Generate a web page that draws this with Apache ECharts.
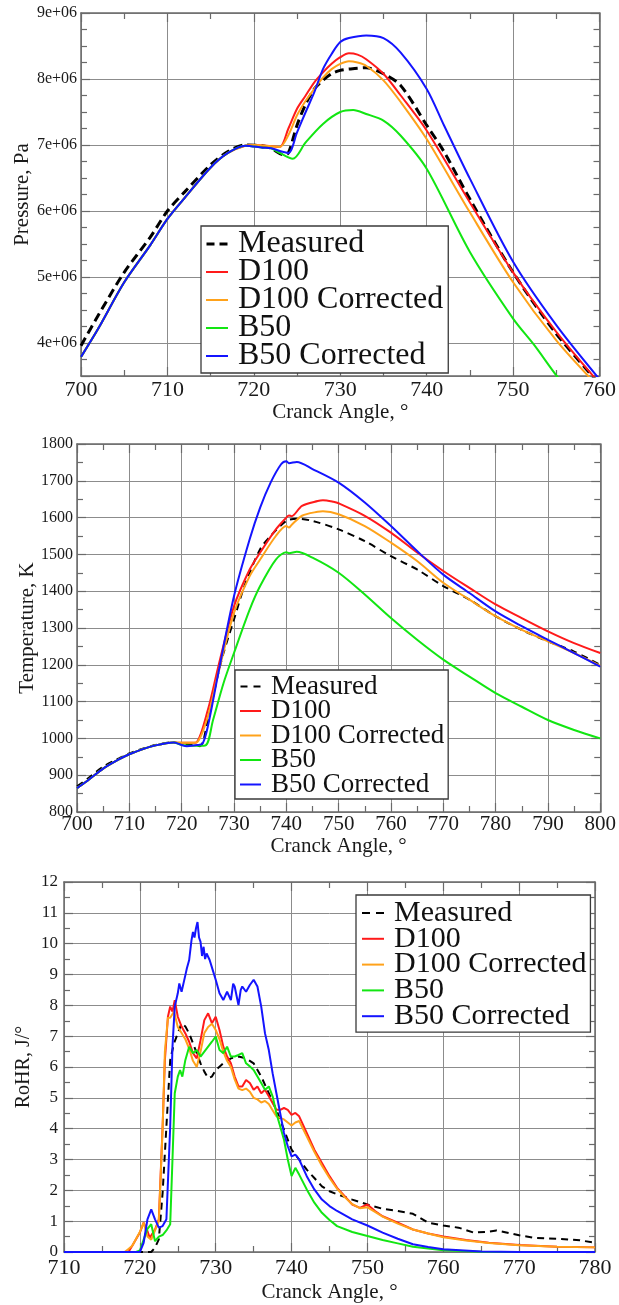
<!DOCTYPE html>
<html>
<head>
<meta charset="utf-8">
<script src="https://cdn.jsdelivr.net/npm/echarts@6/dist/echarts.min.js"></script>
<style>
html,body{margin:0;padding:0;background:#fff;}
#c{width:619px;height:1305px;}
</style>
</head>
<body>
<div id="c"></div>
<script>
// ---------- DATA ----------
const SERIES_NAMES = ['Measured', 'D100', 'D100 Corrected', 'B50', 'B50 Corrected'];

// Chart 1: Pressure, Pa vs crank angle
const P_X_TICKS = [700, 710, 720, 730, 740, 750, 760];
const P_MEAS_X = [700,702,705,708,710,712,715,717,719,721,722,723.5,724,725,726,727,728,729,730,731,733,735,737,740,742,745,750,755,760];
const P_MEAS_Y = [3.96e6,4.42e6,5.07e6,5.60e6,6.0e6,6.29e6,6.70e6,6.90e6,7.0e6,6.99e6,6.95e6,6.85e6,6.88e6,7.30e6,7.62e6,7.85e6,7.98e6,8.08e6,8.13e6,8.15e6,8.17e6,8.08e6,7.90e6,7.30e6,6.90e6,6.18e6,5.07e6,4.14e6,3.38e6];
const P_D100_X = [700,702,705,708,710,712,715,717,719,720,722,723,724,725,726,727,728,729,730,731,732,733,735,737,740,745,750,755,760];
const P_D100_Y = [3.79e6,4.22e6,4.92e6,5.48e6,5.88e6,6.20e6,6.66e6,6.88e6,6.99e6,7.0e6,6.98e6,6.97e6,7.25e6,7.55e6,7.75e6,7.95e6,8.10e6,8.23e6,8.33e6,8.39e6,8.37e6,8.30e6,8.08e6,7.75e6,7.22e6,6.13e6,5.07e6,4.17e6,3.39e6];
const P_D100C_X = [700,702,705,708,710,712,715,717,719,720,722,723,724,725,726,727,728,729,730,731,732,733,735,737,740,745,750,755,760];
const P_D100C_Y = [3.79e6,4.22e6,4.92e6,5.48e6,5.88e6,6.20e6,6.66e6,6.88e6,6.99e6,7.0e6,6.98e6,6.97e6,7.15e6,7.45e6,7.67e6,7.85e6,8.02e6,8.15e6,8.23e6,8.27e6,8.25e6,8.20e6,7.98e6,7.65e6,7.09e6,5.98e6,4.92e6,4.04e6,3.32e6];
const P_B50_X = [700,702,705,708,710,712,715,717,719,721,722,723,724.5,726,728,730,731.5,733,735,737,740,745,750,752.5,755,757];
const P_B50_Y = [3.79e6,4.22e6,4.92e6,5.48e6,5.88e6,6.20e6,6.66e6,6.88e6,6.99e6,6.96e6,6.95e6,6.88e6,6.79e6,7.04e6,7.32e6,7.50e6,7.53e6,7.47e6,7.37e6,7.14e6,6.64e6,5.38e6,4.37e6,3.96e6,3.51e6,3.2e6];
const P_B50C_X = [700,702,705,708,710,712,715,717,719,721,722,723,724,725,726,727,728,729,730,731,733,735,737,740,742,745,750,755,760];
const P_B50C_Y = [3.79e6,4.22e6,4.92e6,5.48e6,5.88e6,6.20e6,6.66e6,6.88e6,6.99e6,6.96e6,6.95e6,6.91e6,6.88e6,7.19e6,7.50e6,7.80e6,8.15e6,8.38e6,8.56e6,8.62e6,8.66e6,8.62e6,8.40e6,7.85e6,7.30e6,6.49e6,5.23e6,4.27e6,3.45e6];

// Chart 2: Temperature, K vs crank angle
const T_MEAS_X = [700,702,705,708,710,713,715,718,720,722,723.5,725,727,728,730,732,735,737,740,742,745,750,755,760,765,770,775,780,785,790,795,800];
const T_MEAS_Y = [870,890,923,946,959,974,982,989,986,982,979,1050,1177,1232,1323,1414,1514,1550,1591,1597,1591,1568,1536,1495,1459,1414,1377,1332,1295,1264,1236,1200];
const T_D100_X = [700,702,705,708,710,713,715,717,718.5,720,722,722.8,725,727,730,733,735,738,740,740.5,741,743,746,747,749,750,755,760,765,770,775,780,785,790,795,800];
const T_D100_Y = [865,885,918,943,957,973,981,987,989,988,988,989,1077,1195,1359,1459,1505,1568,1600,1606,1604,1632,1645,1647,1643,1639,1605,1559,1505,1455,1409,1364,1327,1291,1259,1232];
const T_D100C_X = [700,702,705,708,710,713,715,717,718.5,720,722,723,725,727,730,733,735,738,740,740.5,741,743,746,747,750,755,760,765,770,775,780,785,790,795,800];
const T_D100C_Y = [865,885,918,943,957,973,981,987,989,988,988,990,1059,1177,1341,1441,1486,1550,1577,1573,1580,1605,1616,1617,1609,1577,1532,1482,1423,1377,1332,1295,1264,1232,1197];
const T_B50_X = [700,702,705,708,710,713,715,717,718.5,720,722,724.5,726,728,730,733,735,738,740,740.5,742,745,750,755,760,765,770,775,780,785,790,795,800];
const T_B50_Y = [865,885,918,943,957,973,981,987,989,982,980,981,1050,1150,1232,1350,1414,1486,1506,1503,1507,1491,1450,1391,1327,1268,1214,1168,1123,1086,1050,1023,1000];
const T_B50C_X = [700,702,705,708,710,713,715,717,718.5,720,721,723,724,725,727,730,733,735,737,739,740,740.5,742,745,750,755,760,765,770,775,780,785,790,795,800];
const T_B50C_Y = [865,885,918,943,957,973,981,987,989,982,979,982,986,1032,1177,1386,1541,1627,1695,1745,1753,1748,1751,1732,1695,1641,1577,1509,1445,1395,1345,1305,1268,1232,1195];

// Chart 3: RoHR, J/deg vs crank angle
const R_MEAS_X = [710,721.5,722,722.5,723,723.5,724,724.5,725,725.5,726,726.5,727,727.5,728,728.5,729,729.5,730,731,732,733,734,735,736,737,738,739,740,741,742,743,744,745,746,748,750,752,754,756,758,760,762,764,766,767,768,770,772,775,778,780];
const R_MEAS_Y = [0,0,0.14,0.41,1.92,4.07,6.23,6.77,7.09,7.42,7.31,7.09,6.77,6.45,6.12,5.85,5.64,5.69,5.9,6.12,6.28,6.34,6.28,6.12,5.69,5.15,4.61,3.97,3.32,3.0,2.67,2.4,2.13,1.97,1.87,1.7,1.54,1.4,1.33,1.24,0.95,0.86,0.79,0.63,0.66,0.7,0.65,0.54,0.46,0.43,0.38,0.3];
const R_D100_X = [710,718.5,719,720,720.5,721,721.3,722,722.5,723,723.3,723.7,724,724.3,724.6,725,725.5,726,726.5,727,727.5,728,728.5,729,729.5,730,730.5,731,731.5,732,732.5,733,733.5,734,734.5,735,735.5,736,736.5,737,737.5,738,738.5,739,739.5,740,740.5,741,742,743,744,745,746,747,748,749,750,751,752,754,756,758,760,763,766,770,775,780];
const R_D100_Y = [0,0,0.2,0.63,0.95,0.68,0.46,0.73,1.06,4.07,6.23,7.63,7.96,7.8,8.17,7.63,7.31,7.09,6.82,6.45,6.28,6.87,7.52,7.74,7.42,7.63,7.2,6.66,6.34,6.12,5.69,5.37,5.37,5.58,5.48,5.26,5.37,5.15,5.26,5.05,4.83,4.61,4.61,4.67,4.61,4.45,4.51,4.4,3.86,3.32,2.89,2.46,2.08,1.81,1.54,1.43,1.54,1.33,1.16,0.95,0.73,0.6,0.5,0.39,0.3,0.23,0.17,0.15];
const R_D100C_X = [710,718,718.5,719,720,720.5,721,721.5,722,722.5,723,723.3,723.7,724,724.5,725,725.5,726,726.5,727,727.5,728,728.5,729,729.5,730,730.5,731,731.5,732,732.5,733,733.5,734,734.5,735,735.5,736,736.5,737,737.5,738,739,740,740.5,741,742,743,744,745,746,747,748,749,750,751,752,754,756,758,760,763,766,770,775,780];
const R_D100C_Y = [0,0,0.1,0.2,0.65,0.95,0.5,0.4,0.7,1.0,4.0,6.5,7.6,7.6,7.8,7.3,7.1,6.9,6.6,6.2,6.0,6.5,7.1,7.3,7.4,7.2,6.9,6.5,6.2,6.0,5.6,5.3,5.25,5.3,5.2,5.0,4.95,4.85,4.9,4.8,4.6,4.4,4.3,4.1,4.2,4.25,3.75,3.25,2.8,2.4,2.05,1.78,1.55,1.42,1.45,1.3,1.15,0.92,0.73,0.6,0.48,0.37,0.29,0.22,0.17,0.15];
const R_B50_X = [710,719.5,720,720.5,721,721.5,722,722.5,723,723.5,724,724.3,724.6,725,725.3,725.6,726,726.5,727,727.5,728,728.5,729,729.5,730,730.5,731,731.5,732,732.5,733,733.5,734,734.5,735,735.5,736,736.5,737,737.5,738,738.5,739,739.5,740,740.5,741,742,743,744,745,746,748,750,752,754,756,758,760,765,770,780];
const R_B50_Y = [0,0,0.05,0.4,0.75,0.9,0.35,0.5,0.55,0.7,0.9,3.0,5.15,5.69,5.9,5.69,6.23,6.66,6.45,6.55,6.34,6.5,6.66,6.82,6.99,6.55,6.45,6.66,6.34,6.34,6.39,6.45,6.12,6.02,5.9,5.69,5.48,5.26,5.37,5.05,4.5,4.07,3.64,3.0,2.46,2.73,2.51,2.03,1.6,1.27,1.04,0.84,0.65,0.52,0.39,0.28,0.17,0.11,0.06,0.01,0,0];
const R_B50C_X = [710,720,720.5,721,721.5,722,722.5,723,723.5,724,724.3,724.6,725,725.2,725.5,726,726.2,726.5,726.8,727,727.2,727.4,727.6,727.8,728,728.2,728.4,728.6,728.8,729.2,729.6,730,730.5,731,731.5,732,732.3,732.5,733,733.3,733.5,734,734.5,735,735.5,736,736.5,737,737.5,738,738.5,739,739.5,740,740.5,741,742,743,744,745,746,748,750,752,754,756,758,760,765,770,780];
const R_B50C_Y = [0,0,0.3,1.06,1.38,1.06,0.79,0.84,1.06,4.07,6.66,7.96,8.39,8.71,8.44,8.98,9.2,9.47,10.1,10.38,10.2,10.5,10.7,10.2,10.06,9.6,9.9,9.5,9.68,9.47,9.15,8.83,8.39,8.17,8.44,8.17,8.7,8.61,8.01,8.5,8.61,8.44,8.66,8.83,8.61,7.96,7.09,6.55,5.8,5.15,4.5,3.86,3.43,3.1,3.16,3.0,2.46,2.03,1.7,1.49,1.33,1.06,0.86,0.63,0.43,0.25,0.16,0.09,0.02,0,0];

// ---------- CHART ----------
const FONT = 'Liberation Serif';
const TXT = '#1a1a1a';
const AXC = '#6a6a6a';
const GRIDC = '#8c8c8c';

function pairs(xs, ys) { return xs.map((x, i) => [x, ys[i]]); }

function xAxisPair(gi, min, max, o) {
  const base = {
    type: 'value', gridIndex: gi, min: min, max: max, interval: 10,
    axisLine: { show: true, onZero: false, lineStyle: { color: AXC, width: 1.5 } },
    axisTick: { show: true, inside: true, length: o.tickLen, lineStyle: { color: AXC, width: 1.2 } },
    minorTick: { show: true, splitNumber: 2, length: o.minorLen, lineStyle: { color: AXC, width: 1.2 } },
  };
  return [
    Object.assign({}, base, {
      position: 'bottom',
      splitLine: { show: true, lineStyle: { color: GRIDC, width: 1 } },
      axisLabel: { fontFamily: FONT, fontSize: o.labelSize, color: TXT, margin: o.labelMargin, formatter: v => String(v) },
      name: 'Cranck Angle, °', nameLocation: 'middle', nameGap: o.nameGap,
      nameTextStyle: { fontFamily: FONT, fontSize: o.nameSize, color: TXT }
    }),
    Object.assign({}, base, {
      position: 'top', axisLabel: { show: false }, splitLine: { show: false }
    })
  ];
}

function yAxisPair(gi, o) {
  const base = {
    type: 'value', gridIndex: gi, min: o.min, max: o.max,
    axisLine: { show: true, onZero: false, lineStyle: { color: AXC, width: 1.5 } },
    axisTick: { show: true, inside: true, length: o.tickLen, lineStyle: { color: AXC, width: 1.2 } },
    minorTick: { show: true, splitNumber: o.minorSplit, length: o.minorLen, lineStyle: { color: AXC, width: 1.2 } },
  };
  if (o.interval != null) base.interval = o.interval;
  if (o.minInterval != null) { base.minInterval = o.minInterval; base.maxInterval = o.minInterval; base.splitNumber = o.splitNumber; }
  return [
    Object.assign({}, base, {
      position: 'left',
      splitLine: { show: true, lineStyle: { color: GRIDC, width: 1 } },
      axisLabel: { fontFamily: FONT, fontSize: o.labelSize, color: TXT, margin: o.labelMargin, formatter: o.formatter || (v => String(v)) },
      name: o.name, nameLocation: 'middle', nameGap: o.nameGap, nameRotate: 90, nameMoveOverlap: false,
      nameTextStyle: { fontFamily: FONT, fontSize: o.nameSize, color: TXT }
    }),
    Object.assign({}, base, {
      position: 'right', axisLabel: { show: false }, splitLine: { show: false }
    })
  ];
}

function makeLegend(left, top, fontSize, gap, iconW, iconH, padding, dashIcon) {
  const solidIcon = 'path://M0,0H' + iconW + 'V2H0Z';
  return {
    orient: 'vertical', left: left, top: top, padding: padding, itemGap: gap,
    itemWidth: iconW, itemHeight: iconH,
    backgroundColor: '#fff', borderColor: '#3a3a3a', borderWidth: 1.3, borderRadius: 0,
    selectedMode: false,
    textStyle: { fontFamily: FONT, fontSize: fontSize, color: '#111', padding: [0, 0, 0, 5] },
    data: SERIES_NAMES.map(n => ({ name: n, icon: n === 'Measured' ? dashIcon : solidIcon }))
  };
}

const COLORS = {
  'Measured': '#000000', 'D100': '#ff1a1a', 'D100 Corrected': '#ffa21a',
  'B50': '#12e612', 'B50 Corrected': '#1414ff'
};

function lineSeries(name, xs, ys, gi, width, dash, smooth) {
  return {
    type: 'line', name: name, xAxisIndex: gi * 2, yAxisIndex: gi * 2,
    data: pairs(xs, ys), showSymbol: false, symbol: 'none', smooth: smooth,
    lineStyle: { color: COLORS[name], width: width, type: dash || 'solid' },
    itemStyle: { color: COLORS[name] }, clip: true, animation: false
  };
}

const series = [
  lineSeries('Measured', P_MEAS_X, P_MEAS_Y, 0, 3, [9, 5], 0.3),
  lineSeries('D100', P_D100_X, P_D100_Y, 0, 2, null, 0.3),
  lineSeries('D100 Corrected', P_D100C_X, P_D100C_Y, 0, 2, null, 0.3),
  lineSeries('B50', P_B50_X, P_B50_Y, 0, 2, null, 0.3),
  lineSeries('B50 Corrected', P_B50C_X, P_B50C_Y, 0, 2, null, 0.3),

  lineSeries('Measured', T_MEAS_X, T_MEAS_Y, 1, 2, [7, 5], 0.3),
  lineSeries('D100', T_D100_X, T_D100_Y, 1, 2, null, 0.3),
  lineSeries('D100 Corrected', T_D100C_X, T_D100C_Y, 1, 2, null, 0.3),
  lineSeries('B50', T_B50_X, T_B50_Y, 1, 2, null, 0.3),
  lineSeries('B50 Corrected', T_B50C_X, T_B50C_Y, 1, 2, null, 0.3),

  lineSeries('Measured', R_MEAS_X, R_MEAS_Y, 2, 2, [7, 5], false),
  lineSeries('D100', R_D100_X, R_D100_Y, 2, 2, null, false),
  lineSeries('D100 Corrected', R_D100C_X, R_D100C_Y, 2, 2, null, false),
  lineSeries('B50', R_B50_X, R_B50_Y, 2, 2, null, false),
  lineSeries('B50 Corrected', R_B50C_X, R_B50C_Y, 2, 2, null, false)
];

const x1 = xAxisPair(0, P_X_TICKS[0], P_X_TICKS[P_X_TICKS.length - 1], { tickLen: 9, minorLen: 6, labelSize: 22, labelMargin: 3, nameGap: 24, nameSize: 21 });
const x2 = xAxisPair(1, 700, 800, { tickLen: 9, minorLen: 6, labelSize: 21, labelMargin: 2, nameGap: 23, nameSize: 21 });
const x3 = xAxisPair(2, 710, 780, { tickLen: 9, minorLen: 6, labelSize: 22, labelMargin: 5, nameGap: 30, nameSize: 21 });

const y1 = yAxisPair(0, { min: 3.5e6, max: 9e6, minInterval: 1e6, splitNumber: 5, minorSplit: 4, tickLen: 9, minorLen: 6,
  labelSize: 16, labelMargin: 4, name: 'Pressure, Pa', nameGap: 48, nameSize: 21,
  formatter: v => (Math.abs(v % 1e6) < 1 ? Math.round(v / 1e6) + 'e+06' : '') });
const y2 = yAxisPair(1, { min: 800, max: 1800, interval: 100, minorSplit: 2, tickLen: 9, minorLen: 6,
  labelSize: 16, labelMargin: 4, name: 'Temperature, K', nameGap: 39, nameSize: 21 });
const y3 = yAxisPair(2, { min: 0, max: 12, interval: 1, minorSplit: 2, tickLen: 9, minorLen: 6,
  labelSize: 17, labelMargin: 6, name: 'RoHR, J/°', nameGap: 30, nameSize: 20 });

const option = {
  backgroundColor: '#ffffff',
  animation: false,
  grid: [
    { left: 81, top: 13, width: 520, height: 363 },
    { left: 77, top: 444, width: 524, height: 368 },
    { left: 64, top: 882, width: 531, height: 370 }
  ],
  xAxis: [...x1, ...x2, ...x3],
  yAxis: [...y1, ...y2, ...y3],
  legend: [
    makeLegend(201, 226, 32, -4, 22, 3, [2, 5, 1, 5], 'path://M0,0H8V3H0ZM13,0H21V3H13Z'),
    makeLegend(235, 670, 27, -2.5, 21, 2, [3, 4, 1, 5], 'path://M0,0H7V2H0ZM13,0H20V2H13Z'),
    makeLegend(356, 895, 30, -4.2, 22, 2, [3, 4, 1, 6], 'path://M0,0H8V2H0ZM14,0H22V2H14Z')
  ],
  series: series
};

const chart = echarts.init(document.getElementById('c'), null, { renderer: 'canvas', width: 619, height: 1305 });
chart.setOption(option);
</script>
</body>
</html>
